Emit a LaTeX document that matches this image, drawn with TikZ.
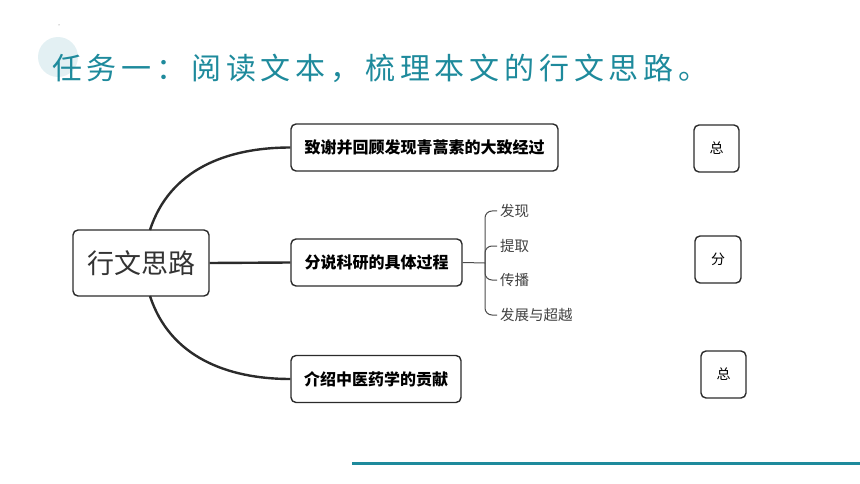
\documentclass[tikz,border=0pt]{standalone}
\usepackage{fontspec}
\setmainfont{Noto Sans CJK SC}
\newfontfamily\cjk{Noto Sans CJK SC}
\usepackage{tikz}
\usetikzlibrary{positioning}
\definecolor{tealtitle}{HTML}{1E8A9C}
\definecolor{tealdot}{HTML}{E3F0F3}
\definecolor{inkline}{HTML}{2B2B2B}

\begin{document}
\begin{tikzpicture}[x=1pt,y=-1pt,join=round,
    box/.style={draw=inkline,line width=1.4pt,rounded corners=5pt,inner sep=0pt,align=center},
    topic/.style={box,font=\cjk\bfseries\fontsize{16}{18}\selectfont,minimum height=47pt},
    tagbox/.style={box,font=\cjk\fontsize{14}{16}\selectfont,minimum width=45pt,minimum height=47pt},
    item/.style={anchor=west,inner sep=3pt,text=black!75,font=\cjk\fontsize{14.5}{16}\selectfont},
    branch/.style={line width=2.4pt,draw=inkline},
    twig/.style={line width=1pt,draw=black!70,rounded corners=7pt}]
         \useasboundingbox (0,0) rectangle (860,484);
         \fill[tealdot] (58,57) circle (20);
         \fill[black!60] (59,25) circle (0.5);
         \node[anchor=base west,inner sep=0pt,text=tealtitle,
               font=\cjk\fontsize{30}{33}\selectfont\addfontfeatures{LetterSpace=16}] (title)
               at (52,80) {任务一：阅读文本，梳理本文的行文思路。};
         \node[box,minimum width=136pt,minimum height=66pt,text=black!80,
               font=\cjk\fontsize{27}{30}\selectfont] (root) at (141,263) {行文思路};
         \node[topic,minimum width=267pt] (thanks) at (424.5,147.5) {致谢并回顾发现青蒿素的大致经过};
         \node[topic,minimum width=171pt] (process) at (376.5,262.5) {分说科研的具体过程};
         \node[topic,minimum width=170pt] (tcm) at (376,379) {介绍中医药学的贡献};
         \node[tagbox] (sum1) at (716.5,148.5) {总};
         \node[tagbox,minimum width=46pt] (part) at (718,259.5) {分};
         \node[tagbox] (sum2) at (723.5,374.5) {总};
         \node[item] (find) at (497,211) {发现};
         \node[item] (extract) at (497,246) {提取};
         \node[item] (spread) at (497,280) {传播};
         \node[item] (grow) at (497,315) {发展与超越};
         \coordinate (hub) at (485,263);
         \coordinate (rootup) at (150,230);
         \coordinate (rootdown) at (150,296);
         \draw[branch] (rootup) to[out=72,in=180] (thanks.west);
         \draw[branch] (root.east) -- (process.west);
         \draw[branch] (rootdown) to[out=-72,in=180] (tcm.west);
         \draw[twig,rounded corners=0pt] (process.east) -- (hub);
         \foreach \leaf in {find,extract,spread,grow}
              \draw[twig] (hub) |- (\leaf.west);
         \draw[tealtitle,line width=3pt] (352,463) -- (860,463);
\end{tikzpicture}
\end{document}
